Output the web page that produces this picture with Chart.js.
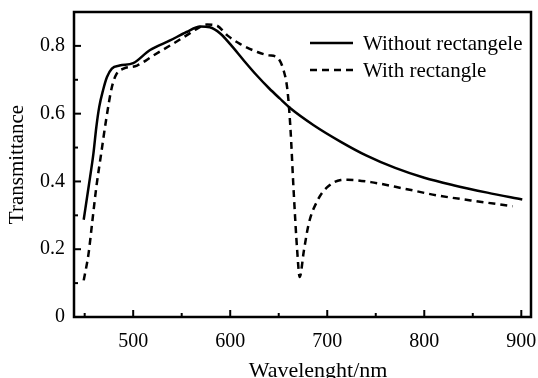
<!DOCTYPE html>
<html>
<head>
<meta charset="utf-8">
<script src="https://cdn.jsdelivr.net/npm/chart.js@4/dist/chart.umd.min.js"></script>
<style>
  html, body { margin: 0; padding: 0; background: #fff; }
  #wrap { width: 538px; height: 378px; }
</style>
</head>
<body>
<div id="wrap"><canvas id="chart"></canvas></div>
<script>
// data
var wlSolid = [449, 454, 459, 462, 465, 469, 473, 478, 486, 500, 517, 538, 555, 569, 579, 590, 600, 614, 627, 640, 651, 662, 686, 714, 740, 770, 800, 830, 865, 901];
var tSolid  = [0.287, 0.383, 0.482, 0.56, 0.62, 0.67, 0.708, 0.733, 0.742, 0.749, 0.787, 0.816, 0.841, 0.857, 0.855, 0.836, 0.805, 0.757, 0.714, 0.675, 0.645, 0.616, 0.566, 0.517, 0.477, 0.44, 0.411, 0.389, 0.367, 0.347];

var wlDashed = [449, 454, 458, 462, 467, 472, 478, 483, 490, 504, 521, 538, 555, 566, 576, 586, 597, 610, 628, 640, 648, 655, 659, 662, 665.5, 669, 671.6, 676, 681, 690, 700, 714, 721, 745, 779, 813, 848, 891];
var tDashed  = [0.108, 0.187, 0.285, 0.383, 0.482, 0.58, 0.678, 0.718, 0.733, 0.742, 0.772, 0.801, 0.831, 0.851, 0.863, 0.86, 0.831, 0.806, 0.782, 0.772, 0.767, 0.728, 0.669, 0.56, 0.365, 0.197, 0.118, 0.197, 0.276, 0.344, 0.383, 0.404, 0.405, 0.398, 0.379, 0.359, 0.344, 0.327];

var seriesNames = ["Without rectangele", "With rectangle"];
var xTitle = "Wavelenght/nm";
var yTitle = "Transmittance";
var xTicks = [500, 600, 700, 800, 900];
var xMinor = [450, 550, 650, 750, 850];
var yTicks = [0, 0.2, 0.4, 0.6, 0.8];
var yMinor = [0.1, 0.3, 0.5, 0.7];

function toPoints(xs, ys) {
    return xs.map(function (x, i) { return {x: x, y: ys[i]}; });
}

var FONT = "'Liberation Serif', 'Times New Roman', serif";

// frame, inward ticks, x title and legend
var framePlugin = {
    id: "frame",
    afterDraw: function (chart) {
        var ctx = chart.ctx;
        var a = chart.chartArea;
        var xs = chart.scales.x, ys = chart.scales.y;
        ctx.save();
        ctx.strokeStyle = "#000";
        ctx.lineWidth = 2.5;
        ctx.strokeRect(a.left, a.top, a.right - a.left, a.bottom - a.top);
        ctx.lineWidth = 2;
        function tickX(v, len) {
            var p = xs.getPixelForValue(v);
            ctx.beginPath(); ctx.moveTo(p, a.bottom); ctx.lineTo(p, a.bottom - len); ctx.stroke();
        }
        function tickY(v, len) {
            var p = ys.getPixelForValue(v);
            ctx.beginPath(); ctx.moveTo(a.left, p); ctx.lineTo(a.left + len, p); ctx.stroke();
        }
        xTicks.forEach(function (v) { tickX(v, 7); });
        xMinor.forEach(function (v) { tickX(v, 4); });
        yTicks.forEach(function (v) { tickY(v, 7); });
        yMinor.forEach(function (v) { tickY(v, 4); });

        ctx.fillStyle = "#000";
        // x title sits a bit right of centre in the original
        ctx.font = "22px " + FONT;
        ctx.textAlign = "center";
        ctx.textBaseline = "alphabetic";
        ctx.fillText(xTitle, a.left + 244, 377);

        // legend
        var lx = a.left + 236, ly = a.top + 31, gap = 27;
        ctx.font = "21px " + FONT;
        ctx.textAlign = "left";
        ctx.textBaseline = "middle";
        chart.data.datasets.forEach(function (ds, i) {
            var y = ly + i * gap;
            ctx.lineWidth = 2.5;
            ctx.setLineDash(ds.borderDash || []);
            ctx.beginPath(); ctx.moveTo(lx, y); ctx.lineTo(lx + 43, y); ctx.stroke();
            ctx.setLineDash([]);
            ctx.fillText(ds.label, lx + 53, y + 1);
        });
        ctx.restore();
    }
};

new Chart(document.getElementById("chart"), {
    type: "line",
    data: {
        datasets: [{
            label: seriesNames[0],
            data: toPoints(wlSolid, tSolid),
            borderColor: "#000",
            borderWidth: 2.5,
            pointRadius: 0,
            cubicInterpolationMode: "monotone",
            fill: false
        }, {
            label: seriesNames[1],
            data: toPoints(wlDashed, tDashed),
            borderColor: "#000",
            borderWidth: 2.5,
            borderDash: [7, 5],
            pointRadius: 0,
            cubicInterpolationMode: "monotone",
            fill: false
        }]
    },
    options: {
        responsive: true,
        maintainAspectRatio: false,
        animation: false,
        layout: { padding: { top: 12, right: 7, left: 0, bottom: 0 } },
        plugins: { legend: { display: false }, tooltip: { enabled: false } },
        scales: {
            x: {
                type: "linear",
                min: 439,
                max: 910,
                afterBuildTicks: function (s) { s.ticks = xTicks.map(function (v) { return {value: v}; }); },
                afterFit: function (s) { s.height = 61; s.paddingLeft = 0; s.paddingRight = 0; },
                grid: { display: false, drawTicks: false },
                border: { display: false },
                ticks: { color: "#000", font: { family: FONT, size: 20 }, padding: 13, maxRotation: 0 },
                title: { display: false }
            },
            y: {
                min: 0,
                max: 0.9,
                afterBuildTicks: function (s) { s.ticks = yTicks.map(function (v) { return {value: v}; }); },
                afterFit: function (s) { s.width = 74; s.paddingTop = 0; s.paddingBottom = 0; },
                grid: { display: false, drawTicks: false },
                border: { display: false },
                ticks: { color: "#000", font: { family: FONT, size: 20 }, padding: 9,
                    callback: function (v) { return v === 0 ? "0" : v.toFixed(1); } },
                title: { display: true, text: yTitle, color: "#000", font: { family: FONT, size: 21 }, padding: { top: 5, bottom: 0 } }
            }
        }
    },
    plugins: [framePlugin]
});
</script>
</body>
</html>
